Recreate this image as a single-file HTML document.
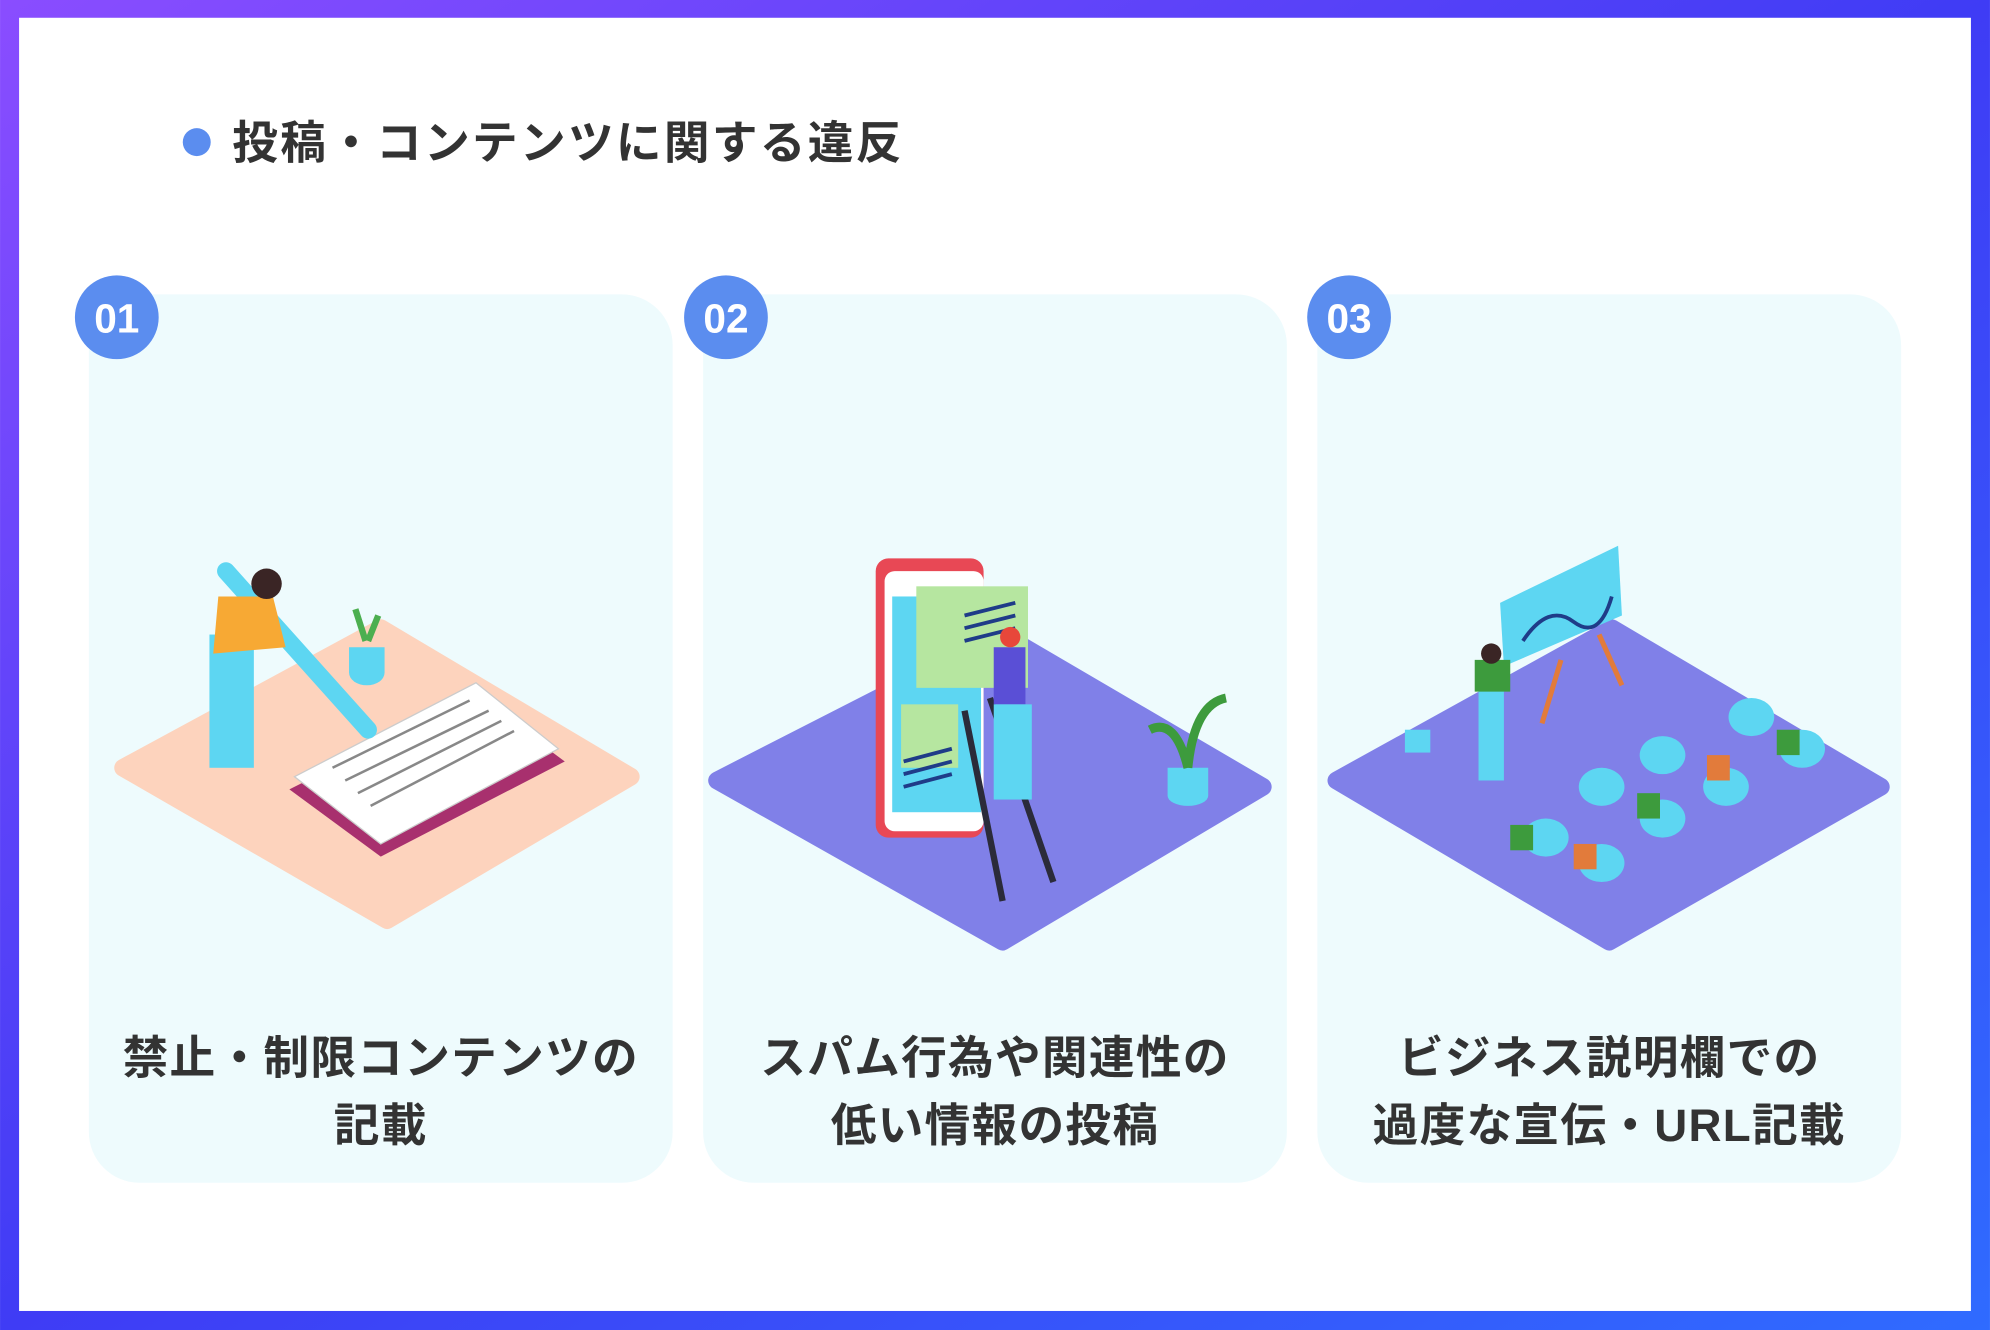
<!DOCTYPE html>
<html><head><meta charset="utf-8"><style>
html,body{margin:0;padding:0;width:1990px;height:1330px;overflow:hidden;background:#fff}
svg{display:block}
text{font-family:"Liberation Sans","Noto Sans CJK JP",sans-serif;font-weight:700}
</style></head><body>
<svg width="1990" height="1330" viewBox="0 0 1568 1048" xmlns="http://www.w3.org/2000/svg">
<defs>
<linearGradient id="g" x1="0" y1="0" x2="1" y2="1">
<stop offset="0" stop-color="#8a4dff"/><stop offset="0.5" stop-color="#3f3cf5"/><stop offset="1" stop-color="#2f6bff"/>
</linearGradient>
</defs>
<rect x="0" y="0" width="1568" height="1048" fill="url(#g)"/>
<rect x="15" y="14" width="1538" height="1019" fill="#fff"/>
<circle cx="155" cy="112" r="11" fill="#5b8def"/>
<text x="183" y="125" font-size="36" fill="#333" letter-spacing="1.8">投稿・コンテンツに関する違反</text>

<rect x="70" y="232" width="460" height="700" rx="40" fill="#eefbfd"/>
<rect x="554" y="232" width="460" height="700" rx="40" fill="#eefbfd"/>
<rect x="1038" y="232" width="460" height="700" rx="40" fill="#eefbfd"/>

<g font-size="32" fill="#fff" text-anchor="middle">
<circle cx="92" cy="250" r="33" fill="#5b8def"/><text x="92" y="262">01</text>
<circle cx="572" cy="250" r="33" fill="#5b8def"/><text x="572" y="262">02</text>
<circle cx="1063" cy="250" r="33" fill="#5b8def"/><text x="1063" y="262">03</text>
</g>

<!-- card 1 illustration -->
<path d="M97 605 L300 495 L497 612 L305 725 Z" fill="#fdd3bd" stroke="#fdd3bd" stroke-width="14" stroke-linejoin="round"/>
<path d="M228 622 L375 548 L445 600 L300 675 Z" fill="#a8306e"/>
<path d="M232 612 L375 538 L440 590 L300 665 Z" fill="#fff" stroke="#ccc"/>
<g stroke="#888" stroke-width="2"><line x1="262" y1="605" x2="370" y2="552"/><line x1="272" y1="615" x2="385" y2="560"/><line x1="282" y1="625" x2="395" y2="568"/><line x1="292" y1="635" x2="405" y2="576"/></g>
<line x1="178" y1="450" x2="290" y2="575" stroke="#5dd6f2" stroke-width="14" stroke-linecap="round"/>
<rect x="165" y="500" width="35" height="105" fill="#5dd6f2"/>
<path d="M172 470 L215 470 L225 510 L168 515 Z" fill="#f7a934"/>
<circle cx="210" cy="460" r="12" fill="#3a2525"/>
<path d="M275 510 h28 v20 a14 10 0 0 1 -28 0 Z" fill="#5dd6f2"/>
<path d="M288 505 l-8 -25 M290 505 l8 -20" stroke="#4caf50" stroke-width="5"/>

<!-- card 2 -->
<path d="M565 615 L790 500 L995 620 L790 742 Z" fill="#8080e8" stroke="#8080e8" stroke-width="14" stroke-linejoin="round"/>
<rect x="690" y="440" width="85" height="220" rx="10" fill="#e84855"/>
<rect x="697" y="450" width="78" height="205" rx="8" fill="#fff"/>
<rect x="703" y="470" width="70" height="170" fill="#5dd6f2"/>
<rect x="722" y="462" width="88" height="80" fill="#b6e6a0"/>
<rect x="710" y="555" width="45" height="50" fill="#b6e6a0"/>
<g stroke="#1f3c88" stroke-width="3"><line x1="760" y1="485" x2="800" y2="475"/><line x1="760" y1="495" x2="800" y2="485"/><line x1="760" y1="505" x2="800" y2="495"/><line x1="712" y1="600" x2="750" y2="590"/><line x1="712" y1="610" x2="750" y2="600"/><line x1="712" y1="620" x2="750" y2="610"/></g>
<path d="M760 560 L790 710 M780 550 L830 695" stroke="#2b2b3a" stroke-width="5"/>
<rect x="783" y="510" width="25" height="45" fill="#5a4fd6"/>
<rect x="783" y="555" width="30" height="75" fill="#5dd6f2"/>
<circle cx="796" cy="502" r="8" fill="#e8473a"/>
<path d="M920 605 h32 v22 a16 8 0 0 1 -32 0 Z" fill="#5dd6f2"/>
<path d="M936 605 q-10 -40 -30 -30 M936 605 q5 -50 30 -55" stroke="#3d9b3d" stroke-width="7" fill="none"/>

<!-- card 3 -->
<path d="M1053 615 L1270 495 L1482 620 L1268 742 Z" fill="#8080e8" stroke="#8080e8" stroke-width="14" stroke-linejoin="round"/>
<path d="M1182 475 L1275 430 L1278 485 L1185 525 Z" fill="#5dd6f2"/>
<path d="M1200 505 q20 -30 40 -15 t30 -20" stroke="#1f3c88" stroke-width="3" fill="none"/>
<path d="M1230 520 L1215 570 M1260 500 L1278 540" stroke="#e27b3b" stroke-width="4"/>
<rect x="1165" y="540" width="20" height="75" fill="#5dd6f2"/>
<path d="M1162 520 h28 v25 h-28Z" fill="#3d9b3d"/>
<circle cx="1175" cy="515" r="8" fill="#3a2525"/>
<rect x="1107" y="575" width="20" height="18" fill="#5dd6f2"/>
<g fill="#5dd6f2">
<ellipse cx="1218" cy="660" rx="18" ry="15"/><ellipse cx="1262" cy="680" rx="18" ry="15"/>
<ellipse cx="1262" cy="620" rx="18" ry="15"/><ellipse cx="1310" cy="645" rx="18" ry="15"/>
<ellipse cx="1310" cy="595" rx="18" ry="15"/><ellipse cx="1360" cy="620" rx="18" ry="15"/>
<ellipse cx="1380" cy="565" rx="18" ry="15"/><ellipse cx="1420" cy="590" rx="18" ry="15"/>
</g>
<g fill="#3d9b3d"><rect x="1190" y="650" width="18" height="20"/><rect x="1290" y="625" width="18" height="20"/><rect x="1400" y="575" width="18" height="20"/></g>
<g fill="#e27b3b"><rect x="1240" y="665" width="18" height="20"/><rect x="1345" y="595" width="18" height="20"/></g>

<g font-size="36" fill="#333" text-anchor="middle" letter-spacing="1">
<text x="300" y="846">禁止・制限コンテンツの</text>
<text x="300" y="899">記載</text>
<text x="784" y="846">スパム行為や関連性の</text>
<text x="784" y="899">低い情報の投稿</text>
<text x="1268" y="846">ビジネス説明欄での</text>
<text x="1268" y="899">過度な宣伝・URL記載</text>
</g>
</svg>
</body></html>
